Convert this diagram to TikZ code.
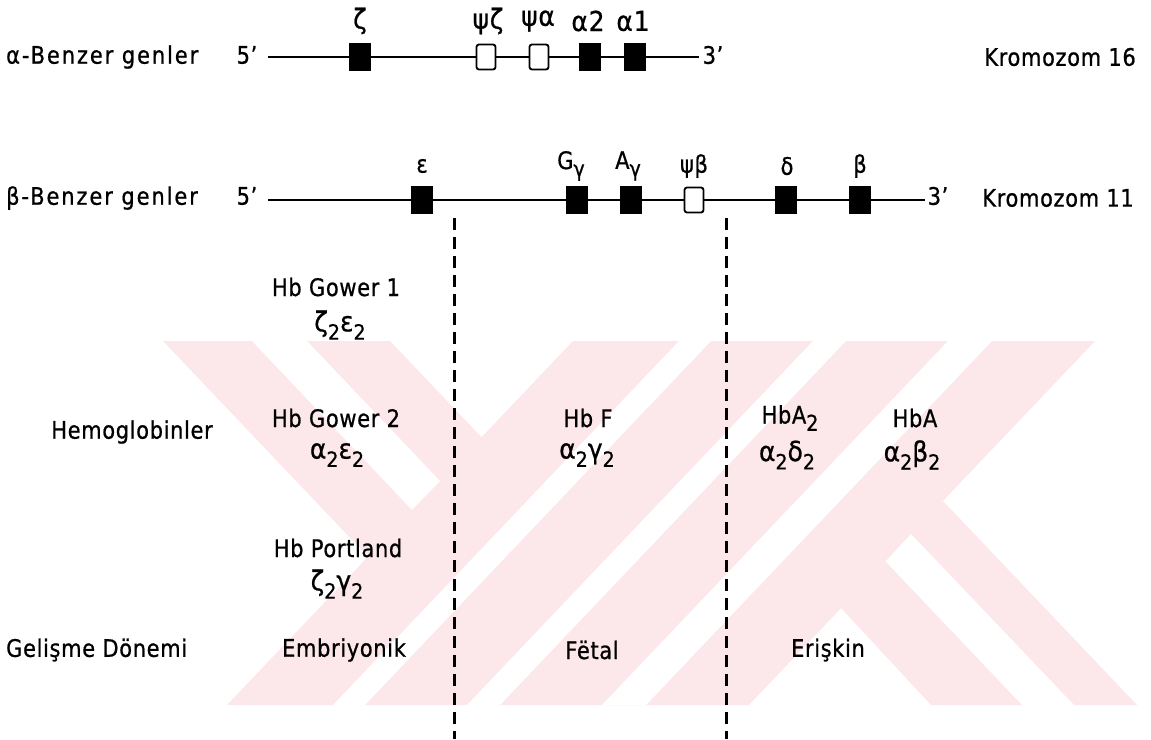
\documentclass[tikz,border=0pt]{standalone}
\usepackage{fontspec}
\setmainfont{DejaVu Sans}[LetterSpace=3, FakeBold=0.8]
\definecolor{wmpink}{RGB}{252,231,235}
% lowered, smaller index (subscripts of chain names)
\newcommand\lo[1]{\raisebox{-0.55ex}{\fontsize{19}{19}\selectfont #1}}
\begin{document}
\begin{tikzpicture}[x=1pt,y=-1pt,
  lbl/.style={inner sep=0pt, yscale=1.15, font=\fontsize{21}{24}\selectfont},
  widelbl/.style={lbl, font=\fontsize{21}{24}\selectfont\addfontfeature{LetterSpace=9}},
  greek/.style={inner sep=0pt, yscale=1.1, font=\fontsize{25}{28}\selectfont},
  gene/.style={draw, line width=1.8pt, minimum width=21pt, minimum height=27pt, inner sep=0pt},
  fullgene/.style={gene, fill=black},
  pseudogene/.style={gene, fill=white, rounded corners=2.5pt, minimum width=19pt, minimum height=25pt},
  chrom/.style={line width=1.8pt},
  border/.style={line width=3pt, dash pattern=on 12pt off 7pt}
]
\useasboundingbox (0,0) rectangle (1151,739);

% ---- background emblem (pale pink bands) ----
\begin{scope}
  \clip (0,341) rectangle (1151,705);
  \fill[wmpink] (163,341) -- (390,341) -- (736,705) -- (509,705) -- cycle;
  \fill[wmpink] (573,341) -- (1095,341) -- (749,705) -- (227,705) -- cycle;
  \fill[wmpink] (943,501) -- (1137,705) -- (931,705) -- (841,608) -- cycle;
  \fill[white] (252,341) -- (307,341) -- (440,481) -- (412,510) -- cycle;
  \fill[white] (679,341) -- (711,341) -- (365,705) -- (333,705) -- cycle;
  \fill[white] (813,341) -- (846,341) -- (500,705) -- (467,705) -- cycle;
  \fill[white] (948,341) -- (992,341) -- (646,705) -- (602,705) -- cycle;
  \fill[white] (885.6,561.4) -- (911,534) -- (1074,705) -- (1022,705) -- cycle;
\end{scope}

% ---- alpha-like gene cluster, chromosome 16 ----
\node[widelbl, anchor=west] (alab) at (6,57) {α-Benzer genler};
\node[lbl] (a5) at (247,55) {5'};
\node[lbl] (a3) at (713,55) {3'};
\coordinate (aL) at (268,57);
\coordinate (aR) at (699,57);
\draw[chrom] (aL) -- (aR);
\node[fullgene]   (gzeta) at (360,57) {};
\node[pseudogene] (gpz)   at (486,57) {};
\node[pseudogene] (gpa)   at (539,57) {};
\node[fullgene]   (ga2)   at (590,57) {};
\node[fullgene]   (ga1)   at (635,57) {};
\node[greek] (tzeta) at (360,21) {ζ};
\node[greek] (tpz)   at (488,21) {ψζ};
\node[greek] (tpa)   at (538,21) {ψα};
\node[greek] (ta2)   at (588,21) {α2};
\node[greek] (ta1)   at (633,21) {α1};
\node[lbl, anchor=east] (k16) at (1136,57) {Kromozom 16};

% ---- beta-like gene cluster, chromosome 11 ----
\node[widelbl, anchor=west] (blab) at (6,198) {β-Benzer genler};
\node[lbl] (b5) at (247,196) {5'};
\node[lbl] (b3) at (938,196) {3'};
\coordinate (bL) at (268,200);
\coordinate (bR) at (925,200);
\draw[chrom] (bL) -- (bR);
\node[fullgene]   (geps) at (422,200) {};
\node[fullgene]   (gGg)  at (577,200) {};
\node[fullgene]   (gAg)  at (631,200) {};
\node[pseudogene] (gpb)  at (694,200) {};
\node[fullgene]   (gdel) at (786,200) {};
\node[fullgene]   (gbet) at (860,200) {};
\node[lbl] (teps) at (422,166) {ε};
\node[lbl] (tGg)  at (571,166) {G\lo{γ}};
\node[lbl] (tAg)  at (628,166) {A\lo{γ}};
\node[lbl] (tpb)  at (694,166) {ψβ};
\node[lbl] (tdel) at (787,166) {δ};
\node[lbl] (tbet) at (860,166) {β};
\node[lbl, anchor=east] (k11) at (1134,198) {Kromozom 11};

% ---- period boundaries ----
\coordinate (e1t) at (454,218);
\coordinate (e1b) at (454,739);
\coordinate (e2t) at (726,218);
\coordinate (e2b) at (726,739);
\draw[border] (e1t) -- (e1b);
\draw[border] (e2t) -- (e2b);

% ---- haemoglobins ----
\node[lbl]   (hg1)  at (336,287) {Hb Gower 1};
\node[greek] (hg1f) at (340,325) {ζ\lo{2}ε\lo{2}};
\node[lbl]   (hemo) at (132,432) {Hemoglobinler};
\node[lbl]   (hg2)  at (336,418) {Hb Gower 2};
\node[greek] (hg2f) at (337,455) {α\lo{2}ε\lo{2}};
\node[lbl]   (hbf)  at (588,418) {Hb F};
\node[greek] (hbff) at (587,455) {α\lo{2}γ\lo{2}};
\node[lbl]   (ha2)  at (790,418) {HbA\lo{2}};
\node[greek] (ha2f) at (787,455) {α\lo{2}δ\lo{2}};
\node[lbl]   (hba)  at (915,418) {HbA};
\node[greek] (hbaf) at (912,455) {α\lo{2}β\lo{2}};
\node[lbl]   (hpo)  at (338,548) {Hb Portland};
\node[greek] (hpof) at (337,584) {ζ\lo{2}γ\lo{2}};

% ---- developmental periods ----
\node[lbl, anchor=west] (dev) at (6,650) {Gelişme Dönemi};
\node[lbl] (pemb) at (344,650) {Embriyonik};
\node[lbl] (pfet) at (592,650) {Fëtal};
\node[lbl] (pad)  at (828,650) {Erişkin};
\end{tikzpicture}
\end{document}
